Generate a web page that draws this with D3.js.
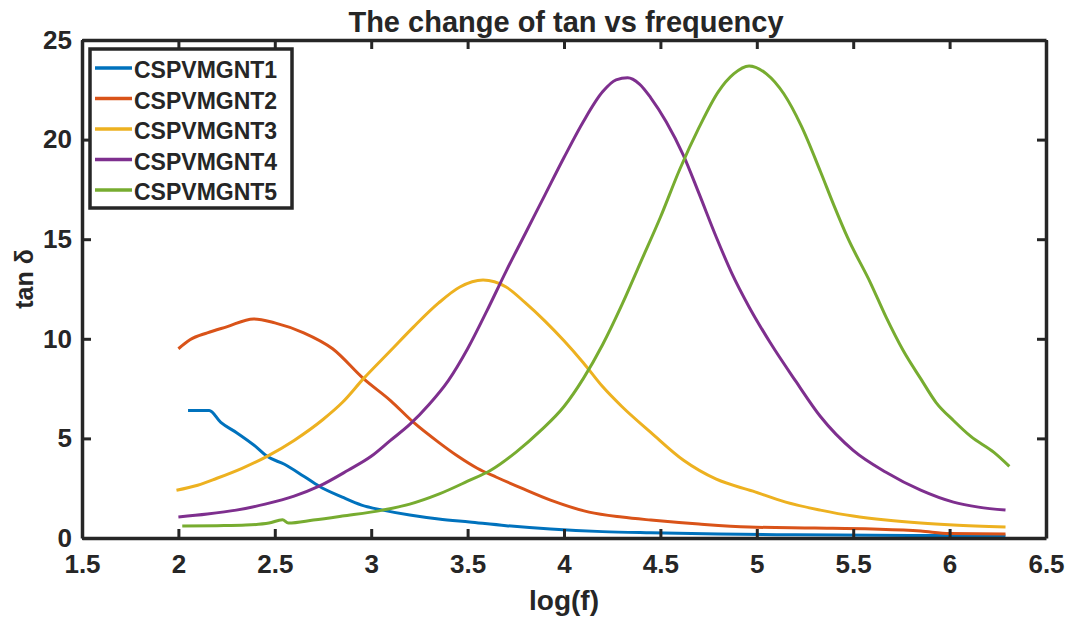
<html>
<head>
<script src="https://d3js.org/d3.v7.min.js"></script>
<style>
body { margin: 0; background: #fff; }
text { font-family: 'Liberation Sans', Arial, sans-serif; font-weight: bold; fill: #262626; }
</style>
</head>
<body>
<svg id="chart" width="1071" height="620"></svg>
<script>
// series names, as in the legend
var names = ["CSPVMGNT1", "CSPVMGNT2", "CSPVMGNT3", "CSPVMGNT4", "CSPVMGNT5"];
var colors = ["#0072BD", "#D95319", "#EDB120", "#7E2F8E", "#77AC30"];

// [log(f), tan delta]
var cspv1 = [[2.05,6.4],[2.16,6.4],[2.22,5.8],[2.3,5.3],[2.4,4.6],[2.46,4.1],[2.55,3.7],[2.65,3.1],[2.73,2.6],[2.85,2.05],[2.95,1.65],[3.06,1.4],[3.2,1.15],[3.35,0.95],[3.51,0.8],[3.7,0.62],[3.93,0.45],[4.2,0.32],[4.45,0.26],[4.8,0.2],[5.2,0.16],[5.6,0.14],[6.0,0.12],[6.29,0.1]];
var cspv2 = [[2.0,9.5],[2.06,9.95],[2.15,10.3],[2.25,10.6],[2.39,11.0],[2.5,10.8],[2.65,10.3],[2.8,9.5],[2.96,8.0],[3.1,6.9],[3.22,5.8],[3.35,4.8],[3.45,4.1],[3.55,3.5],[3.65,3.05],[3.78,2.5],[3.93,1.9],[4.13,1.3],[4.3,1.05],[4.45,0.9],[4.7,0.7],[4.96,0.55],[5.3,0.5],[5.6,0.45],[5.85,0.35],[6.0,0.22],[6.29,0.2]];
var cspv3 = [[1.99,2.4],[2.1,2.65],[2.2,3.0],[2.33,3.5],[2.46,4.1],[2.6,4.9],[2.75,5.95],[2.85,6.8],[2.96,8.0],[3.1,9.4],[3.22,10.6],[3.35,11.8],[3.46,12.6],[3.58,12.95],[3.7,12.6],[3.8,11.8],[3.9,10.9],[4.0,9.9],[4.1,8.8],[4.2,7.6],[4.3,6.6],[4.45,5.3],[4.62,3.9],[4.79,2.95],[4.98,2.35],[5.15,1.8],[5.33,1.4],[5.5,1.1],[5.67,0.9],[5.85,0.75],[6.02,0.65],[6.29,0.55]];
var cspv4 = [[2.0,1.05],[2.15,1.2],[2.3,1.4],[2.45,1.7],[2.6,2.1],[2.73,2.6],[2.88,3.4],[3.0,4.1],[3.1,4.9],[3.2,5.7],[3.3,6.7],[3.4,7.9],[3.5,9.5],[3.6,11.4],[3.7,13.4],[3.8,15.3],[3.9,17.2],[4.0,19.1],[4.1,20.9],[4.2,22.4],[4.27,23.0],[4.33,23.1],[4.39,22.8],[4.45,22.1],[4.53,20.9],[4.62,19.2],[4.7,17.3],[4.79,15.1],[4.87,13.3],[4.96,11.6],[5.07,9.8],[5.2,7.9],[5.33,6.1],[5.5,4.4],[5.67,3.3],[5.85,2.4],[6.02,1.8],[6.15,1.55],[6.29,1.4]];
var cspv5 = [[2.02,0.6],[2.2,0.62],[2.35,0.65],[2.47,0.75],[2.54,0.92],[2.57,0.75],[2.7,0.9],[2.85,1.1],[3.06,1.4],[3.2,1.7],[3.35,2.2],[3.5,2.85],[3.62,3.4],[3.75,4.3],[3.88,5.4],[4.0,6.6],[4.1,8.0],[4.2,9.7],[4.3,11.7],[4.4,13.9],[4.5,16.1],[4.6,18.5],[4.7,20.6],[4.8,22.4],[4.88,23.3],[4.96,23.7],[5.05,23.3],[5.14,22.3],[5.23,20.7],[5.33,18.4],[5.4,16.7],[5.47,15.1],[5.59,12.8],[5.67,11.1],[5.76,9.4],[5.85,8.0],[5.93,6.8],[6.02,5.9],[6.11,5.1],[6.23,4.3],[6.31,3.6]];
var allSeries = [cspv1, cspv2, cspv3, cspv4, cspv5];

var xTicks = [1.5, 2, 2.5, 3, 3.5, 4, 4.5, 5, 5.5, 6, 6.5];
var yTicks = [0, 5, 10, 15, 20, 25];

var svg = d3.select("#chart");
// (careful: "top" is taken by window.top, so plotTop)
var plotLeft = 82, plotRight = 1046, plotTop = 40, plotBottom = 538;

var x = d3.scaleLinear().domain([1.5, 6.5]).range([plotLeft, plotRight]);
var y = d3.scaleLinear().domain([0, 25]).range([plotBottom, plotTop]);

// curves first, axes box drawn over them
var line = d3.line()
  .x(function (d) { return x(d[0]); })
  .y(function (d) { return y(d[1]); })
  .curve(d3.curveMonotoneX);

allSeries.forEach(function (s, i) {
  svg.append("path")
    .attr("d", line(s))
    .attr("fill", "none")
    .attr("stroke", colors[i])
    .attr("stroke-width", 3)
    .attr("stroke-linejoin", "round");
});

// MATLAB style: ticks point inward, box on all four sides
var fmt = function (d) { return d; };
var bottomAxis = svg.append("g").attr("transform", "translate(0," + plotBottom + ")")
  .call(d3.axisBottom(x).tickValues(xTicks).tickSizeInner(-9).tickSizeOuter(0).tickPadding(17).tickFormat(fmt));
var topAxis = svg.append("g").attr("transform", "translate(0," + plotTop + ")")
  .call(d3.axisTop(x).tickValues(xTicks).tickSizeInner(-9).tickSizeOuter(0).tickFormat(""));
var leftAxis = svg.append("g").attr("transform", "translate(" + plotLeft + ",0)")
  .call(d3.axisLeft(y).tickValues(yTicks).tickSizeInner(-9).tickSizeOuter(0).tickPadding(10).tickFormat(fmt));
var rightAxis = svg.append("g").attr("transform", "translate(" + plotRight + ",0)")
  .call(d3.axisRight(y).tickValues(yTicks).tickSizeInner(-9).tickSizeOuter(0).tickFormat(""));

[bottomAxis, topAxis, leftAxis, rightAxis].forEach(function (a) {
  a.select(".domain").attr("stroke", "#262626").attr("stroke-width", 3.5);
  a.selectAll(".tick line").attr("stroke", "#262626").attr("stroke-width", 3);
  a.selectAll(".tick text").style("font-size", "26px").attr("fill", "#262626");
});

// title and axis labels
svg.append("text")
  .attr("x", 566).attr("y", 32)
  .attr("text-anchor", "middle")
  .style("font-size", "29px")
  .text("The change of tan vs frequency");

svg.append("text")
  .attr("x", 564).attr("y", 610)
  .attr("text-anchor", "middle")
  .style("font-size", "28px")
  .text("log(f)");

svg.append("text")
  .attr("transform", "translate(33,279) rotate(-90)")
  .attr("text-anchor", "middle")
  .style("font-size", "25px")
  .text("tan δ");

// legend
var legend = svg.append("g");
legend.append("rect")
  .attr("x", 90).attr("y", 49).attr("width", 202).attr("height", 159)
  .attr("fill", "#fff").attr("stroke", "#262626").attr("stroke-width", 3.5);

names.forEach(function (n, i) {
  var ly = 68 + i * 30.5;
  legend.append("line")
    .attr("x1", 95).attr("x2", 132).attr("y1", ly).attr("y2", ly)
    .attr("stroke", colors[i]).attr("stroke-width", 3.5);
  legend.append("text")
    .attr("x", 134).attr("y", ly + 2).attr("dy", "0.36em")
    .style("font-size", "23px")
    .text(n);
});
</script>
</body>
</html>
